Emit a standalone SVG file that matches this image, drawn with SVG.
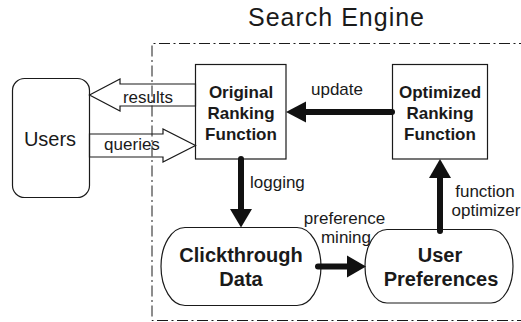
<svg xmlns="http://www.w3.org/2000/svg" width="521" height="322" viewBox="0 0 521 322">
<defs>
<style>
text{font-family:"Liberation Sans",Arial,sans-serif;fill:#1a1a1a}
.lbl{font-size:17px}
.box{font-size:17px;font-weight:bold}
.ov{font-size:20px;font-weight:bold}
.shape{fill:#fff;stroke:#1a1a1a;stroke-width:1.2}
.frame{fill:none;stroke:#1a1a1a;stroke-width:1;stroke-dasharray:11 3.5 2 3.5}
.thick{stroke:#111;stroke-width:6;stroke-linecap:round;fill:none}
.head{fill:#111;stroke:none}
.hollow{fill:none;stroke:#1a1a1a;stroke-width:1.2;stroke-linejoin:miter}
</style>
</defs>
<rect width="521" height="322" fill="#fff"/>
<g id="search-engine">
<path class="frame" d="M530 43.5 H152 V320.5 H530"/>
<text x="248" y="26" style="font-size:25px;letter-spacing:1px">Search Engine</text>
</g>
<g id="users">
<rect class="shape" x="12.5" y="78.5" width="77" height="119" rx="12" ry="12"/>
<text x="50" y="146" text-anchor="middle" style="font-size:20px">Users</text>
</g>
<g id="original-ranking-function">
<rect class="shape" x="195.5" y="64.5" width="90.5" height="94.5"/>
<text class="box" x="241" y="97.5" text-anchor="middle">Original</text>
<text class="box" x="241" y="118.5" text-anchor="middle">Ranking</text>
<text class="box" x="241" y="139.5" text-anchor="middle">Function</text>
</g>
<g id="optimized-ranking-function">
<rect class="shape" x="392.5" y="64.5" width="95" height="94.5"/>
<text class="box" x="440" y="97.5" text-anchor="middle">Optimized</text>
<text class="box" x="440" y="118.5" text-anchor="middle">Ranking</text>
<text class="box" x="440" y="139.5" text-anchor="middle">Function</text>
</g>
<g id="clickthrough-data">
<rect class="shape" x="161" y="227.5" width="160" height="78" rx="24" ry="39"/>
<text class="ov" x="241" y="262" text-anchor="middle">Clickthrough</text>
<text class="ov" x="241" y="285.5" text-anchor="middle">Data</text>
</g>
<g id="user-preferences">
<rect class="shape" x="365" y="229.5" width="148" height="73.5" rx="22" ry="36.75"/>
<text class="ov" x="440" y="262" text-anchor="middle">User</text>
<text class="ov" x="441" y="285.5" text-anchor="middle">Preferences</text>
</g>
<g id="connectors">
<polygon class="hollow" points="89.5,95 120,79 120,84 195.5,84 195.5,106 120,106 120,111"/>
<text class="lbl" x="148" y="102.5" text-anchor="middle">results</text>
<polygon class="hollow" points="89.5,134 163,134 163,129 195.5,145.5 163,162 163,157 89.5,157"/>
<text class="lbl" x="132" y="150" text-anchor="middle">queries</text>
<line class="thick" x1="392" y1="112" x2="303" y2="112"/>
<polygon class="head" points="306,101.5 286,112 306,122.5"/>
<text class="lbl" x="337" y="95" text-anchor="middle">update</text>
<line class="thick" x1="241" y1="159" x2="241" y2="211"/>
<polygon class="head" points="230,209 252,209 241,227.5"/>
<text class="lbl" x="250" y="188">logging</text>
<line class="thick" x1="318" y1="266.5" x2="349" y2="266.5"/>
<polygon class="head" points="347,255.5 366,266.5 347,277.5"/>
<text class="lbl" x="344.5" y="224" text-anchor="middle">preference</text>
<text class="lbl" x="346" y="242.5" text-anchor="middle">mining</text>
<line class="thick" x1="440" y1="231" x2="440" y2="176"/>
<polygon class="head" points="429,178 451,178 440,159"/>
<text class="lbl" x="485" y="197" text-anchor="middle">function</text>
<text class="lbl" x="486" y="216" text-anchor="middle">optimizer</text>
</g>
</svg>
